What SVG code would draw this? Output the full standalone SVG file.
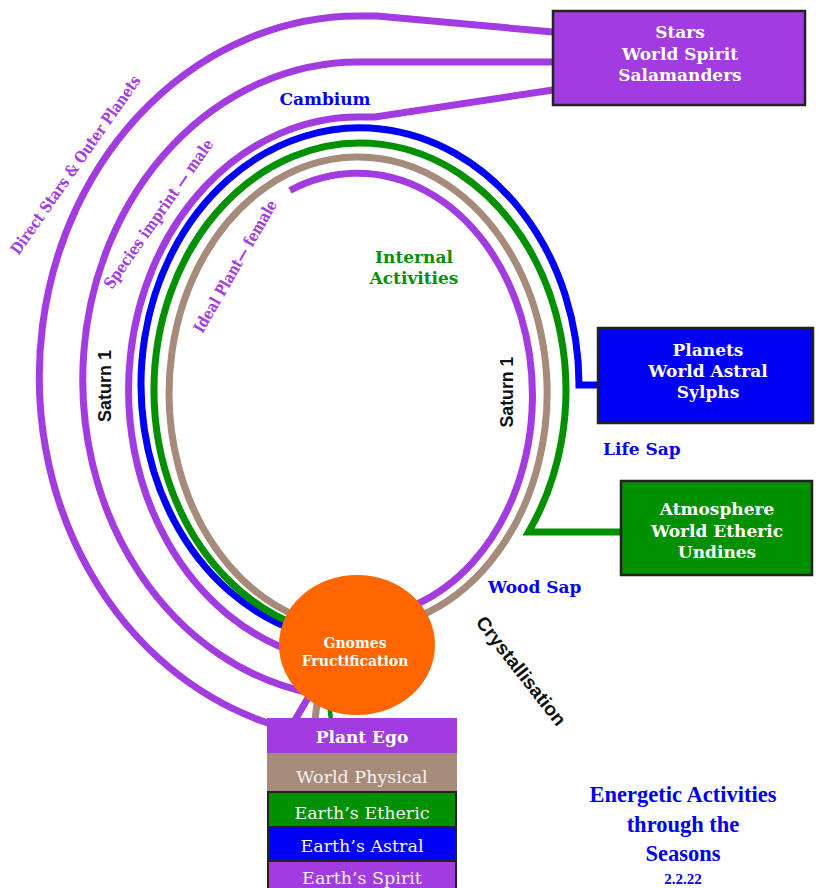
<svg xmlns="http://www.w3.org/2000/svg" width="822" height="888" viewBox="0 0 822 888">
<style>
.ln{fill:none;stroke-width:7;stroke-linecap:butt;stroke-linejoin:miter}
.pu{stroke:#a33ce0}.bl{stroke:#0000f5}.gr{stroke:#009000}.br{stroke:#a68a7a}
.box{stroke:#222;stroke-width:2.5}
.bt{font-family:"DejaVu Serif",serif;font-weight:bold;font-size:17px;fill:#fff;text-anchor:middle}
.st{font-family:"DejaVu Serif",serif;font-size:17.5px;fill:#f6f2f2;text-anchor:middle}
.lb{font-family:"DejaVu Serif",serif;font-weight:bold;font-size:17px}
.pl{font-family:"DejaVu Serif",serif;font-weight:bold;font-size:16px;fill:#a33ce0;text-anchor:middle}
.sat{font-family:"Liberation Sans",Arial,sans-serif;font-weight:bold;font-size:19px;fill:#111;text-anchor:middle}
.ti{font-family:"Liberation Serif","Times New Roman",serif;font-weight:bold;font-size:22.5px;fill:#0000f0;text-anchor:middle}
</style>
<rect width="822" height="888" fill="#fff"/>
<g id="connectors">
<path class="ln pu" d="M 553 32 L 377 16 L 358 16 A 320 361 0 0 0 268 723"/>
<path class="ln pu" d="M 553 62 L 358 62 A 276 318 0 0 0 310 693"/>
<path class="ln pu" d="M 553 90 L 375 117 L 358 117 A 230 273 0 0 0 300 654"/>
<path class="ln bl" d="M 598 385 L 579 385 A 219 257 0 1 0 300 632"/>
<path class="ln gr" d="M 622 532 L 528.5 532 A 206 247 0 1 0 300 626.3"/>
<path class="ln br" d="M 300 617.6 A 189 236 0 1 1 420 616"/>
<path class="ln pu" d="M 290 190.5 A 175 222 0 1 1 415 605"/>
<path class="ln pu" d="M 308 698 L 295 720"/>
<path class="ln br" d="M 318 695 L 315 720"/>
<path class="ln gr" style="stroke-width:4.5" d="M 328 695 L 331 720"/>
</g>
<g id="node-stars">
<rect class="box" x="553" y="11" width="252" height="94" fill="#a33ce0"/>
<text class="bt" x="680" y="38">Stars</text>
<text class="bt" x="680" y="60">World Spirit</text>
<text class="bt" x="680" y="81">Salamanders</text>
</g>
<g id="node-planets">
<rect class="box" x="598" y="328" width="215" height="95" fill="#0000f5"/>
<text class="bt" x="708" y="356">Planets</text>
<text class="bt" x="708" y="377">World Astral</text>
<text class="bt" x="708" y="398">Sylphs</text>
</g>
<g id="node-atmosphere">
<rect class="box" x="621" y="481" width="191" height="94" fill="#009000"/>
<text class="bt" x="717" y="515">Atmosphere</text>
<text class="bt" x="717" y="537">World Etheric</text>
<text class="bt" x="717" y="558">Undines</text>
</g>
<g id="node-gnomes">
<ellipse cx="357" cy="645" rx="78" ry="70" fill="#ff6600"/>
<text class="bt" style="font-size:14px" x="355" y="648">Gnomes</text>
<text class="bt" style="font-size:14px" x="355" y="666">Fructification</text>
</g>
<g id="node-plant-ego">
<rect x="267" y="718" width="190" height="35" fill="#a33ce0"/>
<text class="bt" x="362" y="743">Plant Ego</text>
</g>
<g id="node-world-physical">
<rect x="267" y="753" width="190" height="38" fill="#a68a7a"/>
<text class="st" x="362" y="783">World Physical</text>
</g>
<g id="node-earth-etheric">
<rect class="box" x="268" y="792" width="188" height="35" fill="#009000" style="stroke-width:2"/>
<text class="st" x="362" y="819">Earth’s Etheric</text>
</g>
<g id="node-earth-astral">
<rect class="box" x="268" y="827" width="188" height="33" fill="#0000f5" style="stroke-width:2"/>
<text class="st" x="362" y="852">Earth’s Astral</text>
</g>
<g id="node-earth-spirit">
<rect class="box" x="268" y="861" width="188" height="30" fill="#a33ce0" style="stroke-width:2"/>
<text class="st" x="362" y="884">Earth’s Spirit</text>
</g>
<g id="labels">
<text class="lb" x="325" y="105" fill="#0000f0" text-anchor="middle">Cambium</text>
<text class="lb" x="414" y="263" fill="#009000" text-anchor="middle">Internal</text>
<text class="lb" x="414" y="284" fill="#009000" text-anchor="middle">Activities</text>
<text class="lb" x="603" y="455" fill="#0000f0">Life Sap</text>
<text class="lb" x="488" y="593" fill="#0000f0">Wood Sap</text>
<text class="pl" transform="translate(80 168) rotate(-55)" textLength="214" lengthAdjust="spacingAndGlyphs">Direct Stars &amp; Outer Planets</text>
<text class="pl" transform="translate(163 217) rotate(-55)" textLength="178" lengthAdjust="spacingAndGlyphs">Species imprint — male</text>
<text class="pl" transform="translate(240 269) rotate(-60)" textLength="150" lengthAdjust="spacingAndGlyphs">Ideal Plant— female</text>
<text class="sat" transform="translate(111 386) rotate(-90)" textLength="72" lengthAdjust="spacingAndGlyphs">Saturn 1</text>
<text class="sat" transform="translate(513 392) rotate(-90)" textLength="71" lengthAdjust="spacingAndGlyphs">Saturn 1</text>
<text class="sat" transform="translate(516 675) rotate(52)" textLength="133" lengthAdjust="spacingAndGlyphs">Crystallisation</text>
<text class="ti" x="683" y="802">Energetic Activities</text>
<text class="ti" x="683" y="832">through the</text>
<text class="ti" x="683" y="861">Seasons</text>
<text class="ti" style="font-size:15px" x="683" y="884">2.2.22</text>
</g>
</svg>
